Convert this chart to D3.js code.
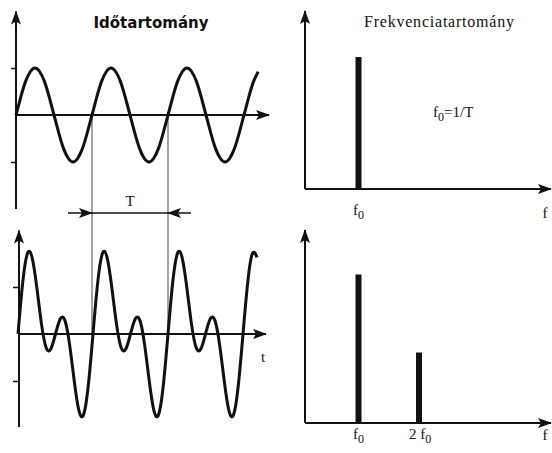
<!DOCTYPE html>
<html>
<head>
<meta charset="utf-8">
<script src="https://cdn.jsdelivr.net/npm/d3@7"></script>
<style>
  body { margin: 0; background: #fff; }
  text { fill: #111; }
</style>
</head>
<body>
<div id="container"></div>
<script>
/* CONSTANTS AND GLOBALS */
const width = 552,
  height = 453

/* DATA */
// waveform samples, 16 per period T
const samplesPerT = 16
const pureWave = [
  0, .38, .71, .92, 1, .92, .71, .38, 0, -.38, -.71, -.92, -1, -.92, -.71, -.38,
  0, .38, .71, .92, 1, .92, .71, .38, 0, -.38, -.71, -.92, -1, -.92, -.71, -.38,
  0, .38, .71, .92, 1, .92, .71, .38, 0, -.38, -.71, -.92, -1, -.92, -.71, -.38,
  0, .38, .71, .92
]
const mixedWave = [
  0, 1.09, 1.71, 1.63, 1.0, .22, -.29, -.32, 0, .32, .29, -.22, -1.0, -1.63, -1.71, -1.09,
  0, 1.09, 1.71, 1.63, 1.0, .22, -.29, -.32, 0, .32, .29, -.22, -1.0, -1.63, -1.71, -1.09,
  0, 1.09, 1.71, 1.63, 1.0, .22, -.29, -.32, 0, .32, .29, -.22, -1.0, -1.63, -1.71, -1.09,
  0, 1.09, 1.71, 1.63
]
const yTicks = [-1, 1]
const periodMarks = [1, 2]          // vertical guide lines at t = T, 2T

// spectra: harmonic number and line height
const topFreqs = [1]
const topAmps = [0.88]
const bottomFreqs = [1, 2]
const bottomAmps = [0.99, 0.47]
const freqPrefix = ['', '2 ']       // "f0", "2 f0"

/* SVG */
const svg = d3.select('#container')
  .append('svg')
  .attr('width', width)
  .attr('height', height)

const defs = svg.append('defs')
defs.append('marker')
  .attr('id', 'arrow')
  .attr('markerUnits', 'userSpaceOnUse')
  .attr('viewBox', '0 0 14 10')
  .attr('refX', 13)
  .attr('refY', 5)
  .attr('markerWidth', 14)
  .attr('markerHeight', 10)
  .attr('orient', 'auto')
  .append('path')
  .attr('d', 'M0,0 L14,5 L0,10 L3,5 Z')
  .attr('fill', '#111')

const serif = '"Liberation Serif", "DejaVu Serif", serif'

function axisLine(x1, y1, x2, y2, arrow, w) {
  svg.append('line')
    .attr('x1', x1).attr('y1', y1).attr('x2', x2).attr('y2', y2)
    .attr('stroke', '#111')
    .attr('stroke-width', w || 2)
    .attr('marker-end', arrow ? 'url(#arrow)' : null)
}

function label(x, y, txt, size, anchor) {
  return svg.append('text')
    .attr('x', x).attr('y', y)
    .attr('font-family', serif)
    .attr('font-size', size)
    .attr('text-anchor', anchor || 'middle')
    .text(txt)
}

function fLabel(x, y, prefix, size, anchor) {
  const t = svg.append('text')
    .attr('x', x).attr('y', y)
    .attr('font-family', serif)
    .attr('font-size', size)
    .attr('text-anchor', anchor || 'middle')
  t.append('tspan').text(prefix + 'f')
  t.append('tspan').attr('dy', 4).attr('font-size', size * 0.8).text('0')
  return t
}

/* ---------- TIME DOMAIN ---------- */
const xTop = d3.scaleLinear().domain([0, 1]).range([16, 92])
const xBot = d3.scaleLinear().domain([0, 1]).range([18, 93])
const yTop = d3.scaleLinear().domain([-1, 1]).range([162, 68])
const yBot = d3.scaleLinear().domain([-1, 1]).range([381, 287])

// guide lines at T and 2T
svg.selectAll('.guide')
  .data(periodMarks)
  .join('line')
  .attr('class', 'guide')
  .attr('x1', d => xTop(d)).attr('x2', d => xTop(d))
  .attr('y1', yTop(0)).attr('y2', yBot(0))
  .attr('stroke', '#666')
  .attr('stroke-width', 1.2)

// axes
axisLine(16, yTop(-2.0), 16, yTop(2.2), true)
axisLine(16, yTop(0), 269, yTop(0), true)
axisLine(19, yBot(-1.98), 19, yBot(2.2), true)
axisLine(19, yBot(0), 266, yBot(0), true)

svg.append('g')
  .attr('transform', 'translate(16,0)')
  .call(d3.axisLeft(yTop).tickValues(yTicks).tickSize(5).tickFormat(''))
  .call(g => g.select('.domain').remove())
  .call(g => g.selectAll('line').attr('stroke', '#111').attr('stroke-width', 1.5))

svg.append('g')
  .attr('transform', 'translate(19,0)')
  .call(d3.axisLeft(yBot).tickValues(yTicks).tickSize(6).tickFormat(''))
  .call(g => g.select('.domain').remove())
  .call(g => g.selectAll('line').attr('stroke', '#111').attr('stroke-width', 1.5))

// waves
const lineTop = d3.line()
  .x((d, i) => xTop(i / samplesPerT))
  .y(d => yTop(d))
  .curve(d3.curveNatural)

const lineBot = d3.line()
  .x((d, i) => xBot(i / samplesPerT))
  .y(d => yBot(d))
  .curve(d3.curveNatural)

svg.append('path')
  .datum(pureWave)
  .attr('d', lineTop)
  .attr('fill', 'none')
  .attr('stroke', '#111')
  .attr('stroke-width', 3)

svg.append('path')
  .datum(mixedWave)
  .attr('d', lineBot)
  .attr('fill', 'none')
  .attr('stroke', '#111')
  .attr('stroke-width', 3)

// T dimension arrow
const tY = 213
axisLine(xTop(1), tY, xTop(2), tY, false, 1.5)
axisLine(68, tY, xTop(1), tY, true, 1.5)
axisLine(191, tY, xTop(2), tY, true, 1.5)
label((xTop(1) + xTop(2)) / 2, 206, 'T', 15)

label(263, 362, 't', 15)

svg.append('text')
  .attr('x', 151).attr('y', 28)
  .attr('text-anchor', 'middle')
  .attr('font-family', '"Comic Sans MS", "DejaVu Sans", sans-serif')
  .attr('font-weight', 'bold')
  .attr('font-size', 15)
  .text('Időtartomány')

/* ---------- FREQUENCY DOMAIN ---------- */
const xF = d3.scaleLinear().domain([1, 2]).range([358.5, 419])
const yFTop = d3.scaleLinear().domain([0, 1]).range([189, 39])
const yFBot = d3.scaleLinear().domain([0, 1]).range([423, 273])

axisLine(305, 189, 305, 11, true)
axisLine(305, 189, 551, 189, true)
axisLine(305, 423, 305, 230, true)
axisLine(305, 423, 551, 423, true)

svg.selectAll('.barTop')
  .data(topFreqs)
  .join('rect')
  .attr('class', 'barTop')
  .attr('x', d => xF(d) - 3)
  .attr('width', 6)
  .attr('y', (d, i) => yFTop(topAmps[i]))
  .attr('height', (d, i) => yFTop(0) - yFTop(topAmps[i]))
  .attr('fill', '#111')

svg.selectAll('.barBot')
  .data(bottomFreqs)
  .join('rect')
  .attr('class', 'barBot')
  .attr('x', d => xF(d) - 3)
  .attr('width', 6)
  .attr('y', (d, i) => yFBot(bottomAmps[i]))
  .attr('height', (d, i) => yFBot(0) - yFBot(bottomAmps[i]))
  .attr('fill', '#111')

topFreqs.forEach((d, i) => fLabel(xF(d), 215, freqPrefix[i], 15))
bottomFreqs.forEach((d, i) => fLabel(xF(d) + (i ? 1 : 0), 439, freqPrefix[i], 15))

label(545, 218, 'f', 15)
label(545, 440, 'f', 15)

label(364, 27, 'Frekvenciatartomány', 16, 'start')
  .attr('textLength', 150)

const eq = svg.append('text')
  .attr('x', 433).attr('y', 117)
  .attr('font-family', serif)
  .attr('font-size', 15)
eq.append('tspan').text('f')
eq.append('tspan').attr('dy', 4).attr('font-size', 12).text('0')
eq.append('tspan').attr('dy', -4).text('=1/T')
</script>
</body>
</html>
